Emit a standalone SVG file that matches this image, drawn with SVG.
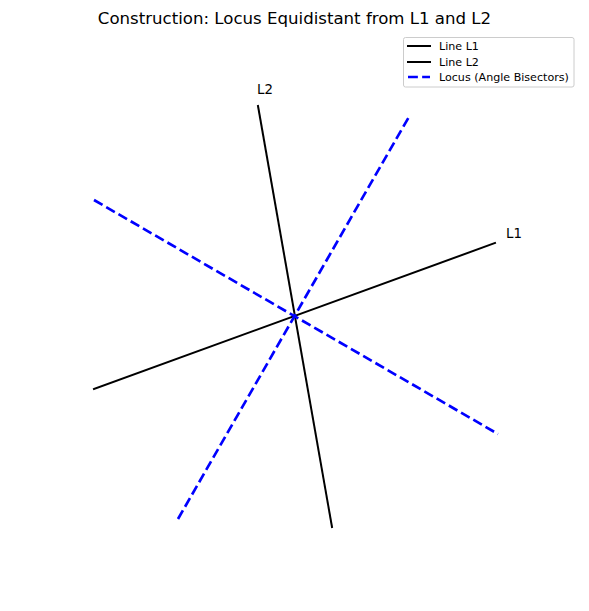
<svg xmlns="http://www.w3.org/2000/svg" width="589" height="611" viewBox="0 0 589 611">
<style>
text{font-family:"DejaVu Sans",sans-serif;fill:#000}
.l{stroke:#000;stroke-width:2;fill:none;stroke-linecap:square}
.b{stroke:#0000ff;stroke-width:2.67;fill:none;stroke-dasharray:9.87,4.27}
.lg{font-size:11.1px}
</style>
<rect width="589" height="611" fill="#fff"/>
<text x="294.5" y="24" font-size="16.6" text-anchor="middle">Construction: Locus Equidistant from L1 and L2</text>
<g id="connectors">
<line class="l" x1="94" y1="389" x2="495" y2="243"/>
<line class="l" x1="258" y1="106" x2="332" y2="527"/>
<line class="b" x1="178" y1="519" x2="410" y2="115"/>
<line class="b" x1="94" y1="200" x2="498" y2="434"/>
</g>
<g id="L1"><text x="506" y="238" font-size="13.3">L1</text></g>
<g id="L2"><text x="257" y="94" font-size="13.3">L2</text></g>
<g id="legend">
<rect x="403.5" y="37.5" width="170.5" height="49.5" rx="2" fill="#fff" fill-opacity="0.8" stroke="#ccc"/>
<line class="l" x1="408" y1="46" x2="430" y2="46" stroke-linecap="butt"/>
<text class="lg" x="439" y="50">Line L1</text>
<line class="l" x1="408" y1="62" x2="430" y2="62" stroke-linecap="butt"/>
<text class="lg" x="439" y="66">Line L2</text>
<line class="b" x1="408" y1="77" x2="430" y2="77" stroke-dasharray="7.4,3.2" stroke-width="2.67"/>
<text class="lg" x="439" y="81">Locus (Angle Bisectors)</text>
</g>
</svg>
